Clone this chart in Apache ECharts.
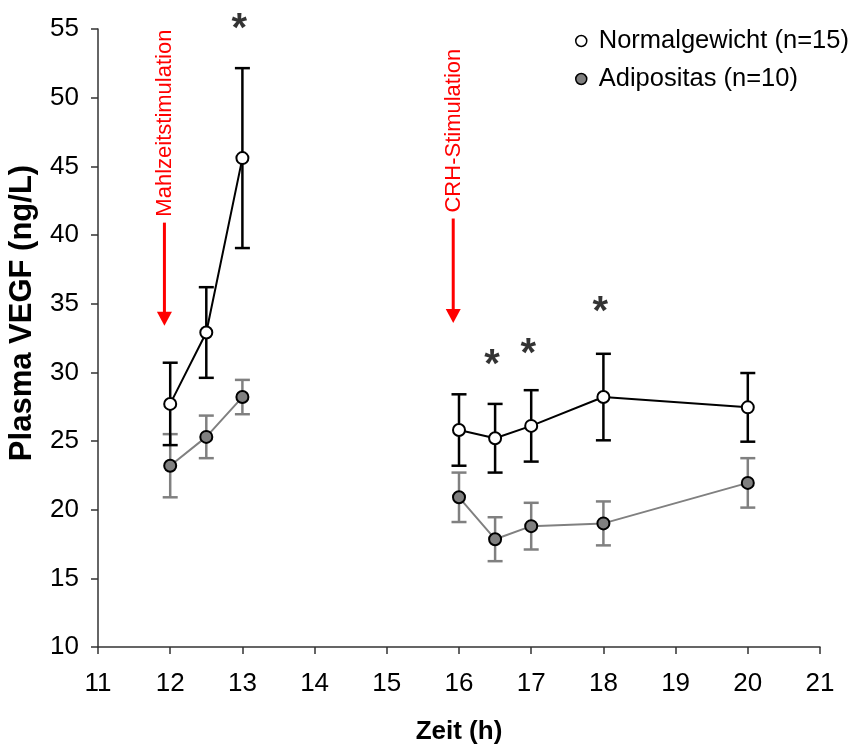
<!DOCTYPE html>
<html>
<head>
<meta charset="utf-8">
<script src="https://cdn.jsdelivr.net/npm/echarts@6/dist/echarts.min.js"></script>
<style>html,body{margin:0;padding:0;background:#fff}#c{width:850px;height:745px}</style>
</head>
<body>
<div id="c"></div>
<script>
// ---- data ----
var times      = [12, 12.5, 13, 16, 16.5, 17, 18, 20];
var phase      = [1, 1, 1, 2, 2, 2, 2, 2];
var normalMean = [27.7, 32.9, 45.6, 25.8, 25.2, 26.1, 28.2, 27.45];
var normalSEM  = [3.0, 3.3, 6.55, 2.6, 2.5, 2.6, 3.15, 2.5];
var adipMean   = [23.2, 25.3, 28.2, 20.9, 17.85, 18.8, 19.0, 21.95];
var adipSEM    = [2.3, 1.55, 1.25, 1.8, 1.6, 1.7, 1.6, 1.8];
var starX      = [13, 16.5, 17, 18];
var starY      = [55.7, 31.25, 32.1, 35.1];
var seriesNames = ['Normalgewicht (n=15)', 'Adipositas (n=10)'];
var annotText  = ['Mahlzeitstimulation', 'CRH-Stimulation'];
var annotX     = [11.92, 15.92];
var annotTop   = [40.9, 41.2];
var annotTip   = [33.4, 33.6];
var yTicks = [10, 55, 5];
var xTicks = [11, 21, 1];

var FONT = "'Liberation Sans', Arial, sans-serif";
var chart = echarts.init(document.getElementById('c'), null, {renderer: 'canvas'});

function pairs(means, ph) {
  var out = [];
  for (var i = 0; i < times.length; i++) if (phase[i] === ph) out.push([times[i], means[i]]);
  return out;
}
function errData(means, sem) {
  return times.map(function (t, i) { return [t, means[i] - sem[i], means[i] + sem[i]]; });
}
function errRender(color) {
  return function (params, api) {
    var x = api.value(0);
    var lo = api.coord([x, api.value(1)]);
    var hi = api.coord([x, api.value(2)]);
    var w = 7.5;
    var st = {stroke: color, lineWidth: 2.5};
    return {type: 'group', children: [
      {type: 'line', shape: {x1: hi[0], y1: hi[1], x2: lo[0], y2: lo[1]}, style: st},
      {type: 'line', shape: {x1: hi[0] - w, y1: hi[1], x2: hi[0] + w, y2: hi[1]}, style: st},
      {type: 'line', shape: {x1: lo[0] - w, y1: lo[1], x2: lo[0] + w, y2: lo[1]}, style: st}
    ]};
  };
}
function lineSeries(name, means, ph, lineColor, fill) {
  return {
    type: 'line', name: name, data: pairs(means, ph), z: 5,
    symbol: 'circle', symbolSize: 12, showAllSymbol: true,
    lineStyle: {color: lineColor, width: 2},
    itemStyle: {color: fill, borderColor: '#000', borderWidth: 2},
    emphasis: {disabled: true}, animation: false
  };
}

var option = {
  animation: false,
  grid: {left: 98, right: 30, top: 29, bottom: 98, outerBoundsMode: 'none', containLabel: false},
  legend: {
    orient: 'vertical', left: 570, top: 23, itemGap: 12,
    itemWidth: 11, itemHeight: 11,
    textStyle: {fontFamily: FONT, fontSize: 25.5, color: '#000', padding: [0, 0, 0, 7]},
    data: [
      {name: seriesNames[0], icon: 'circle', itemStyle: {color: '#fff', borderColor: '#000', borderWidth: 1.5}},
      {name: seriesNames[1], icon: 'circle', itemStyle: {color: '#808080', borderColor: '#000', borderWidth: 1.5}}
    ]
  },
  xAxis: {
    type: 'value', min: xTicks[0], max: xTicks[1], interval: xTicks[2],
    name: 'Zeit (h)', nameLocation: 'middle', nameGap: 72,
    nameTextStyle: {fontFamily: FONT, fontSize: 26, fontWeight: 'bold', color: '#000'},
    axisLine: {onZero: false, lineStyle: {color: '#333', width: 1.5}},
    axisTick: {show: true, length: 7, lineStyle: {color: '#333', width: 1.5}},
    axisLabel: {fontFamily: FONT, fontSize: 26, color: '#000', margin: 24},
    splitLine: {show: false}
  },
  yAxis: {
    type: 'value', min: yTicks[0], max: yTicks[1], interval: yTicks[2],
    axisLine: {show: true, lineStyle: {color: '#333', width: 1.5}},
    axisTick: {show: true, length: 7, lineStyle: {color: '#333', width: 1.5}},
    axisLabel: {fontFamily: FONT, fontSize: 26, color: '#000', margin: 19},
    splitLine: {show: false}
  },
  series: [
    {type: 'custom', name: seriesNames[1] + ' SEM', data: errData(adipMean, adipSEM), renderItem: errRender('#808080'), z: 2, silent: true},
    {type: 'custom', name: seriesNames[0] + ' SEM', data: errData(normalMean, normalSEM), renderItem: errRender('#000'), z: 3, silent: true},
    lineSeries(seriesNames[1], adipMean, 1, '#808080', '#808080'),
    lineSeries(seriesNames[1], adipMean, 2, '#808080', '#808080'),
    lineSeries(seriesNames[0], normalMean, 1, '#000', '#fff'),
    lineSeries(seriesNames[0], normalMean, 2, '#000', '#fff'),
    {
      type: 'scatter', name: 'sig', data: starX.map(function (x, i) { return [x, starY[i]]; }),
      symbolSize: 1, itemStyle: {color: 'rgba(0,0,0,0)'}, clip: false, silent: true, z: 6,
      label: {show: true, position: 'inside', formatter: '*', fontFamily: FONT, fontSize: 40, fontWeight: 'bold', color: '#000', offset: [-3, 11]}
    }
  ]
};
chart.setOption(option);

// annotations (arrows + rotated red labels), positioned through the axes
var g = [];
for (var i = 0; i < annotText.length; i++) {
  var pStart = chart.convertToPixel({gridIndex: 0}, [annotX[i], annotTop[i]]);
  var pTip = chart.convertToPixel({gridIndex: 0}, [annotX[i], annotTip[i]]);
  var hh = 14, hw = 7.5;
  g.push({type: 'line', shape: {x1: pStart[0], y1: pStart[1], x2: pTip[0], y2: pTip[1] - hh + 1}, style: {stroke: '#ff0000', lineWidth: 3}, silent: true});
  g.push({type: 'polygon', shape: {points: [[pTip[0] - hw, pTip[1] - hh], [pTip[0] + hw, pTip[1] - hh], [pTip[0], pTip[1]]]}, style: {fill: '#ff0000'}, silent: true});
  g.push({type: 'text', x: pStart[0] + 1, y: pStart[1] - 6, rotation: Math.PI / 2,
    style: {text: annotText[i], fontFamily: FONT, fontSize: 22, fill: '#ff0000', align: 'left', verticalAlign: 'middle'}, silent: true});
}
g.push({type: 'text', x: 22, y: 313, rotation: Math.PI / 2,
  style: {text: 'Plasma VEGF (ng/L)', fontFamily: FONT, fontSize: 31, fontWeight: 'bold', fill: '#000', align: 'center', verticalAlign: 'middle'}, silent: true});
chart.setOption({graphic: g});
</script>
</body>
</html>
